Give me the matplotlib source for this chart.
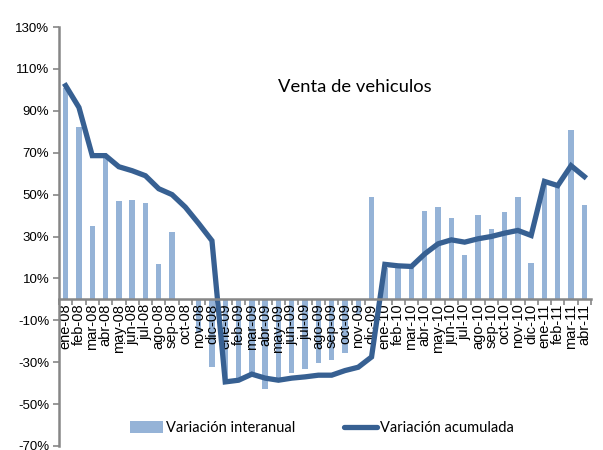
import matplotlib
matplotlib.use("Agg")
import matplotlib.pyplot as plt
import numpy as np
from matplotlib.lines import Line2D
from matplotlib.patches import Patch

months = ["ene", "feb", "mar", "abr", "may", "jun", "jul", "ago", "sep", "oct", "nov", "dic"]
categories = ([f"{m}-08" for m in months] + [f"{m}-09" for m in months]
              + [f"{m}-10" for m in months] + [f"{m}-11" for m in months[:4]])

interanual = [101, 82.4, 35.2, 67.8, 47, 47.6, 46.2, 16.7, 32, 0,
              -16, -32.2, -38.5, -38, -36, -42.9, -38, -35, -33.3, -30.5,
              -29, -25.8, -6.8, 49, 15, 15.4, 14.8, 42.4, 44, 38.9,
              21, 40.3, 33.7, 41.9, 49, 17.3, 55, 53.5, 80.8, 44.8]

acumulada = [102, 91.6, 68.6, 68.6, 63.3, 61.4, 59, 52.8, 50, 44,
             36.2, 28, -39.4, -38.6, -35.7, -37.6, -38.6, -37.6, -37, -36.2,
             -36.2, -34, -32.4, -27.5, 16.7, 16, 15.7, 21.7, 26.5, 28.4,
             27.3, 28.9, 30, 31.6, 32.9, 30.5, 56.3, 54.3, 63.8, 58.6]

y_ticks = list(range(-70, 131, 20))

bar_color = "#95B3D7"
line_color = "#376092"
axis_color = "#868686"

fig = plt.figure(figsize=(6.03, 4.5), dpi=100)
ax = fig.add_axes([59 / 603, 4 / 450, 532 / 603, 419 / 450])

# axis styling first: moving a spine rebuilds the tick objects
for side in ("top", "right"):
    ax.spines[side].set_visible(False)
ax.spines["bottom"].set_position(("data", 0))
for side in ("bottom", "left"):
    ax.spines[side].set_color(axis_color)
    ax.spines[side].set_linewidth(1.8)
    ax.spines[side].set_zorder(4)
# tick labels sit above the bars, the line above everything
ax.set_axisbelow(False)

x = np.arange(len(categories))
ax.bar(x, interanual, width=0.4, color=bar_color, zorder=2)
ax.plot(x, acumulada, color=line_color, linewidth=3.8, solid_joinstyle="miter", zorder=3)

ax.set_xlim(-0.5, len(categories) - 0.5)
ax.set_ylim(-70, 130)
ax.set_yticks(y_ticks)
ax.set_yticklabels([f"{v}%" for v in y_ticks], fontfamily="Liberation Sans", fontsize=9.5)

# category labels under the zero line, ticks on the category boundaries
ax.set_xticks(x)
ax.set_xticks(np.arange(-0.5, len(categories), 1), minor=True)
ax.set_xticklabels(categories, rotation=90, fontfamily="Liberation Sans", fontsize=10.5,
                   va="top", ha="center")
ax.tick_params(axis="x", which="major", length=0, pad=3)
ax.tick_params(axis="x", which="minor", length=4, color=axis_color, width=1.2)
ax.tick_params(axis="y", length=4, color=axis_color, width=1.2, pad=3)

fig.text(355 / 603, 1 - 87 / 450, "Venta de vehiculos", fontfamily="Lato",
         fontsize=13.2, ha="center", va="center")

handles = [Patch(facecolor=bar_color, edgecolor="none"),
           Line2D([0], [0], color=line_color, linewidth=3.8, solid_capstyle="round")]
fig.legend(handles, ["Variación interanual", "Variación acumulada"],
           loc="center", bbox_to_anchor=(322 / 603, 1 - 428 / 450), ncol=2,
           frameon=False, prop={"family": "Lato", "size": 10.5},
           handlelength=2.3, handleheight=0.9, handletextpad=0.2, columnspacing=3.3)

fig.savefig("out.png", dpi=100)
